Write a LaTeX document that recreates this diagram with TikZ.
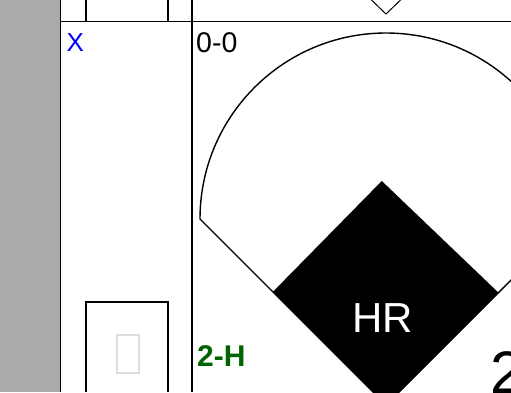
\documentclass[tikz,border=0pt]{standalone}
\usepackage{fontspec}
\setmainfont{Liberation Sans}
\definecolor{sidegray}{HTML}{AAAAAA}
\definecolor{scoregreen}{HTML}{006400}
\definecolor{tofugray}{HTML}{DDDDDD}
\tikzset{
  gridline/.style={line width=1.5pt, draw=black},
  fieldline/.style={line width=1.4pt, draw=black},
  lbl/.style={inner sep=0pt, anchor=base west},
}
\begin{document}
\begin{tikzpicture}[x=1pt,y=-1pt]
\useasboundingbox (0,0) rectangle (511,392);
\clip (0,0) rectangle (511,392);
\fill[white] (0,0) rectangle (511,392);
% gray margin
\fill[sidegray] (0,0) rectangle (60.5,392);
% grid lines
\coordinate (hl) at (60.5,21.5);
\coordinate (hr) at (511,21.5);
\draw[gridline] (hl) -- (hr);
\draw[gridline] (60.5,0) -- (60.5,392);
\draw[gridline] (192,0) -- (192,392);
% top small box
\draw[gridline] (86,0) -- (86,21.5);
\draw[gridline] (168,0) -- (168,21.5);
% bottom small box
\draw[gridline] (86,392) -- (86,302) -- (168,302) -- (168,392);
\draw[tofugray, line width=1.4pt] (117,335) rectangle (139,373);
% small diamond at top
\draw[line width=1pt, fill=white] (371.5,0) -- (386,14) -- (400.5,0) -- (386,-14) -- cycle;
% field: arc and foul lines
\coordinate (home) at (386,405);
\draw[fieldline] (home) -- (200,219) arc[start angle=180, end angle=360, radius=186] -- cycle;
% infield diamond
\fill[black] (381.8,181) -- (498.3,292.5) -- (385.5,405) -- (272.7,292) -- cycle;
% texts
\node[lbl, text=blue, font=\fontsize{26}{26}\selectfont] (x) at (66.5,51) {X};
\node[lbl, font=\fontsize{28.5}{28.5}\selectfont] (score) at (196,52) {0-0};
\node[lbl, text=scoregreen, font=\fontsize{30}{30}\selectfont\bfseries] (res) at (197,366) {2-H};
\node[inner sep=0pt, anchor=base, text=white, font=\fontsize{42}{42}\selectfont] (hr) at (382.5,332) {HR};
\node[lbl, font=\fontsize{60}{60}\selectfont] (two) at (490,393) {2};
\end{tikzpicture}
\end{document}
